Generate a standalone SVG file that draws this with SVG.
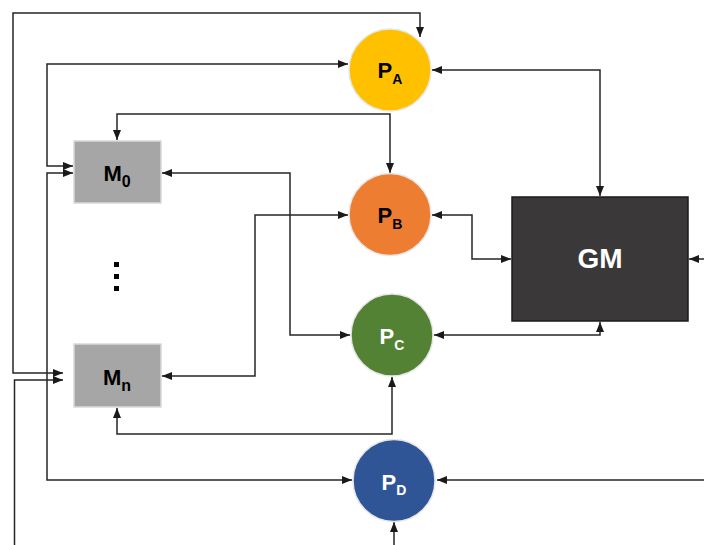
<svg xmlns="http://www.w3.org/2000/svg" width="704" height="545" viewBox="0 0 704 545">
<style>
.c{fill:none;stroke:#262626;stroke-width:1.5}
.b{marker-start:url(#a2);marker-end:url(#a)}
.e{marker-end:url(#a)}
.t{font-family:"Liberation Sans",Arial,sans-serif;font-weight:bold;text-anchor:middle}
.cir{stroke:#e6e6e6;stroke-width:1.5}
.m{fill:#a6a6a6;stroke:#d9d9d9;stroke-width:1.5}
</style>
<defs>
<marker id="a" markerUnits="userSpaceOnUse" markerWidth="10" markerHeight="8" refX="10" refY="4" orient="auto"><path d="M0,0 L10,4 L0,8 Z" fill="#1a1a1a"/></marker>
<marker id="a2" markerUnits="userSpaceOnUse" markerWidth="10" markerHeight="8" refX="10" refY="4" orient="auto-start-reverse"><path d="M0,0 L10,4 L0,8 Z" fill="#1a1a1a"/></marker>
</defs>
<rect width="704" height="545" fill="#ffffff"/>
<g id="connectors">
<path class="c b" d="M63,373 L13,373 L13,13 L420,13 L420,37"/>
<path class="c b" d="M73,166 L47,166 L47,64 L348,64"/>
<path class="c b" d="M73,173 L47,173 L47,480 L352,480"/>
<path class="c e" d="M14.5,545 L14.5,380 L63,380"/>
<path class="c b" d="M117,140 L117,114 L390,114 L390,173"/>
<path class="c b" d="M162,173 L290,173 L290,335 L350,335"/>
<path class="c b" d="M162,376 L255,376 L255,215 L348,215"/>
<path class="c b" d="M117,408 L117,434 L392,434 L392,377"/>
<path class="c b" d="M432,70 L600,70 L600,196"/>
<path class="c b" d="M432,215 L472,215 L472,259 L511,259"/>
<path class="c b" d="M434,335 L600,335 L600,322"/>
<path class="c e" d="M704,259 L689,259"/>
<path class="c e" d="M704,480 L437,480"/>
<path class="c e" d="M394,545 L394,522"/>
</g>
<g id="PA">
<circle class="cir" cx="390" cy="70" r="41" fill="#ffc000"/>
<text class="t" x="390" y="78" font-size="22" fill="#000000">P<tspan font-size="14" dy="6">A</tspan></text>
</g>
<g id="PB">
<circle class="cir" cx="390" cy="214.5" r="41" fill="#ed7d31"/>
<text class="t" x="390" y="223" font-size="22" fill="#000000">P<tspan font-size="14" dy="6">B</tspan></text>
</g>
<g id="PC">
<circle class="cir" cx="392" cy="335" r="41" fill="#548235"/>
<text class="t" x="392" y="344" font-size="22" fill="#ffffff">P<tspan font-size="14" dy="6">C</tspan></text>
</g>
<g id="PD">
<circle class="cir" cx="394" cy="480.5" r="41" fill="#2f5597"/>
<text class="t" x="394" y="490" font-size="22" fill="#ffffff">P<tspan font-size="14" dy="5">D</tspan></text>
</g>
<g id="GM">
<rect x="512" y="197" width="176" height="124" fill="#3a3838" stroke="#1a1a1a" stroke-width="1.5"/>
<text class="t" x="600" y="268" font-size="28" fill="#ffffff">GM</text>
</g>
<g id="M0">
<rect class="m" x="74" y="141" width="87" height="62"/>
<text class="t" x="117" y="181" font-size="22" fill="#000000">M<tspan font-size="16" dy="6">0</tspan></text>
</g>
<g id="Mn">
<rect class="m" x="74" y="344" width="87" height="63"/>
<text class="t" x="117" y="385" font-size="22" fill="#000000">M<tspan font-size="16" dy="6">n</tspan></text>
</g>
<g id="dots" fill="#000000">
<rect x="114" y="262" width="5" height="5"/>
<rect x="114" y="274" width="5" height="5"/>
<rect x="114" y="286" width="5" height="5"/>
</g>
</svg>
